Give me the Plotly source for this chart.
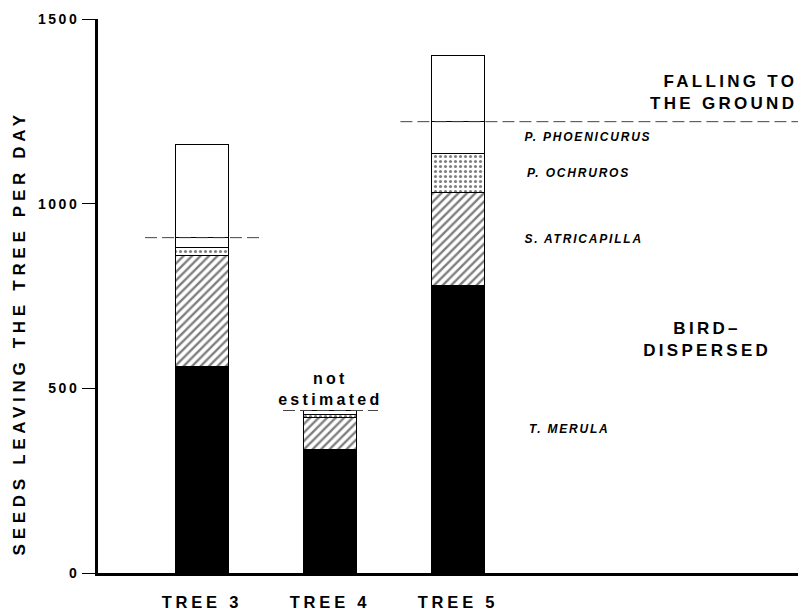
import plotly.graph_objects as go

# seeds leaving the tree per day, per tree (stacked from the ground up)
trees = ["TREE 3", "TREE 4", "TREE 5"]
t_merula = [560, 335, 778]
s_atricapilla = [300, 85, 252]
p_ochruros = [22, 8, 107]
p_phoenicurus = [26, 12, 85]
falling = [253, None, 178]   # tree 4: not estimated

species_labels = ["T. MERULA", "S. ATRICAPILLA", "P. OCHRUROS", "P. PHOENICURUS"]
y_ticks = [0, 500, 1000, 1500]

FONT = "Liberation Sans"
xpos = list(range(len(trees)))
bw = 0.42

fig = go.Figure()

def seg(vals, color, pattern=None):
    marker = dict(color=color, line=dict(color="black", width=1))
    if pattern:
        marker["pattern"] = pattern
    fig.add_trace(go.Bar(x=xpos, y=vals, width=bw, marker=marker, showlegend=False, hoverinfo="skip"))

seg(t_merula, "black")
seg(s_atricapilla, "white", dict(shape="/", fgcolor="black", bgcolor="white", size=6, solidity=0.4))
seg(p_ochruros, "white", dict(shape=".", fgcolor="black", bgcolor="white", size=5, solidity=0.3))
seg(p_phoenicurus, "white")
seg(falling, "white")

# bird-dispersed totals -> dashed boundary lines
bird = [a + b + c + d for a, b, c, d in zip(t_merula, s_atricapilla, p_ochruros, p_phoenicurus)]
xr = [-0.8125, 4.656]
dash_ext = [(-0.445, 0.47), (-0.367, 0.375), (-0.45, None)]
for i, (l, r) in enumerate(dash_ext):
    fig.add_shape(type="line", xref="x", yref="y", x0=i + l, x1=(i + r) if r is not None else xr[1],
                  y0=bird[i], y1=bird[i], line=dict(color="#444", width=1, dash="12px,5px"))

big = dict(family=FONT, size=17, color="black", weight="bold")

# species labels next to tree 5 segments
cum = 0
for name, vals in zip(species_labels, [t_merula, s_atricapilla, p_ochruros, p_phoenicurus]):
    mid = cum + vals[2] / 2
    cum += vals[2]
    fig.add_annotation(x=2.508, y=mid, xref="x", yref="y", text=name, showarrow=False,
                       xanchor="left", yanchor="middle", xshift=12,
                       font=dict(family=FONT, size=12, color="black", style="italic", weight="bold"))

fig.add_annotation(x=1, y=bird[1], xref="x", yref="y", text="not<br>estimated", showarrow=False,
                   xanchor="center", yanchor="bottom", yshift=0,
                   font=dict(family=FONT, size=16, color="black", weight="bold"))
fig.add_annotation(x=1, y=bird[2] + falling[2] / 2, xref="paper", yref="y", text="FALLING TO<br>THE GROUND",
                   showarrow=False, xanchor="right", align="right", yanchor="middle", xshift=1, yshift=-4,
                   font=big)
fig.add_annotation(x=3.945, y=bird[2] / 2 + 20, xref="x", yref="y", text="BIRD\u2013<br>DISPERSED",
                   showarrow=False, xanchor="center", align="center", yanchor="middle", font=big)
fig.add_annotation(x=-0.113, y=0.435, xref="paper", yref="paper", text="SEEDS LEAVING THE TREE PER DAY",
                   showarrow=False, textangle=-90, xanchor="center", yanchor="middle", font=big)

fig.update_layout(
    width=798, height=611,
    barmode="stack",
    plot_bgcolor="white", paper_bgcolor="white",
    margin=dict(l=98, r=0, t=19, b=38),
    showlegend=False,
)
fig.update_xaxes(range=xr, tickvals=xpos, ticktext=trees, showline=True, linewidth=3, linecolor="black",
                 showgrid=False, zeroline=False, ticks="", ticklabelstandoff=12,
                 tickfont=dict(family=FONT, size=16.5, color="black", weight="bold"))
fig.update_yaxes(range=[0, 1500], tickvals=y_ticks, showline=True, linewidth=3, linecolor="black",
                 showgrid=False, zeroline=False, ticks="outside", ticklen=13, tickwidth=1, tickcolor="black",
                 tickfont=dict(family=FONT, size=14, color="black", weight="bold"))

# letter-spaced lettering like the original figure; no page margin
js = """
document.body.style.margin = '0';
var gd = document.getElementById('{plot_id}');
gd.querySelectorAll('.xtick text').forEach(function(t){ t.style.letterSpacing = '3.8px'; });
gd.querySelectorAll('.ytick text').forEach(function(t){ t.style.letterSpacing = '2.5px'; });
gd.querySelectorAll('.annotation-text').forEach(function(t){
  var fs = parseFloat(t.style.fontSize);
  if (t.textContent.indexOf('SEEDS') === 0) t.style.letterSpacing = '4.7px';
  else if (fs < 14) t.style.letterSpacing = '1.8px';
  else t.style.letterSpacing = '3.3px';
});
"""
fig.write_html("out.html", post_script=js, config={"displayModeBar": False})
